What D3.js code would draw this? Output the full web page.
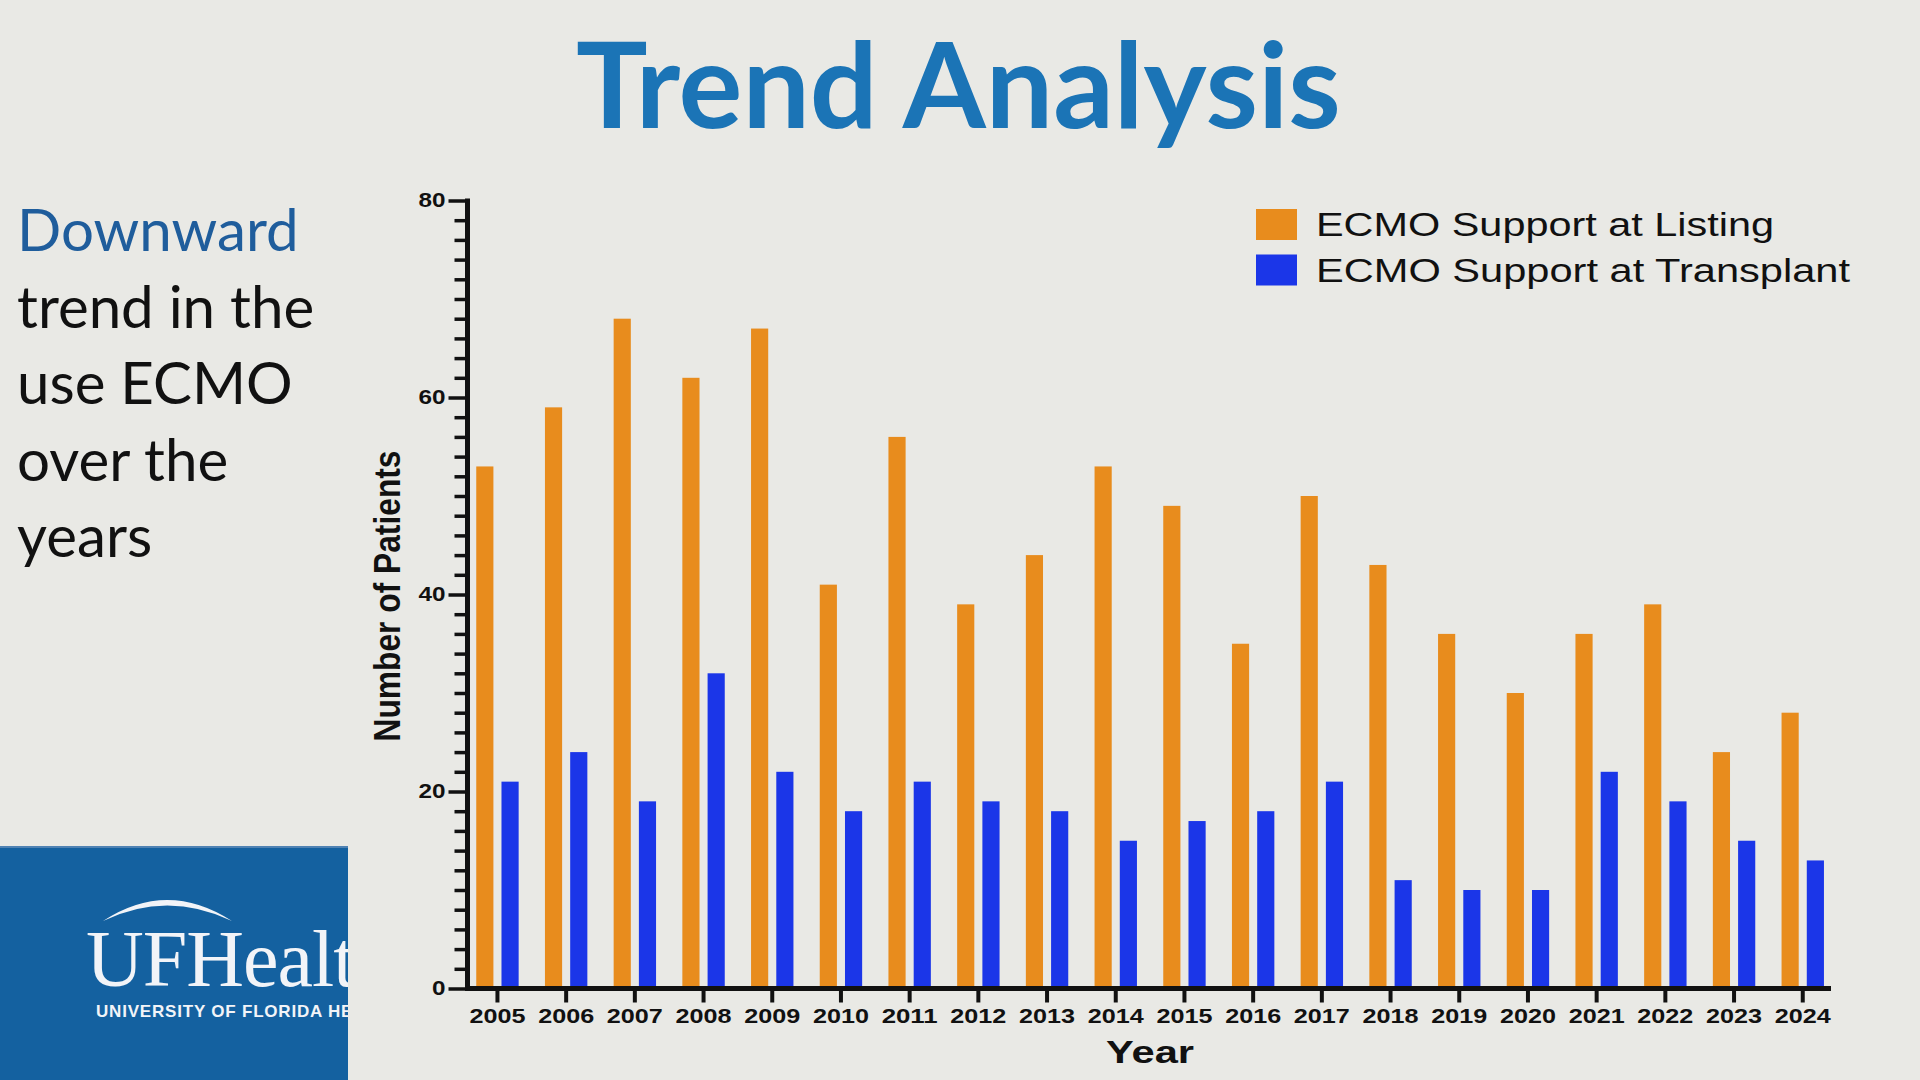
<!DOCTYPE html>
<html><head><meta charset="utf-8">
<script src="https://cdn.jsdelivr.net/npm/d3@7"></script>
<style>html,body{margin:0;padding:0;background:#e9e9e5;overflow:hidden}</style>
</head><body>
<svg id="c" width="1920" height="1080"></svg>
<script>
const years = ["2005","2006","2007","2008","2009","2010","2011","2012","2013","2014","2015","2016","2017","2018","2019","2020","2021","2022","2023","2024"];
const listing = [53,59,68,62,67,41,56,39,44,53,49,35,50,43,36,30,36,39,24,28];
const transplant = [21,24,19,32,22,18,21,19,18,15,17,18,21,11,10,10,22,19,15,13];
const seriesKeys = ["listing","transplant"];
const seriesNames = ["ECMO Support at Listing","ECMO Support at Transplant"];
const seriesColors = ["#e88c1d","#1b36e8"];
const yMajorTicks = [0,20,40,60,80];
const sideLines = ["Downward","trend in the","use ECMO","over the","years"];
const titleText = "Trend Analysis";
const xTitle = "Year";
const yTitle = "Number of Patients";

const svg = d3.select("#c");
svg.append("rect").attr("width",1920).attr("height",1080).attr("fill","#e9e9e5");

// Title
const title = svg.append("text").text(titleText)
  .attr("x",576).attr("y",128)
  .attr("font-family","Lato, 'Open Sans', sans-serif").attr("font-weight",700)
  .attr("font-size",110).attr("fill","#1b74b6");
{
  const w = title.node().getComputedTextLength();
  title.attr("font-size", 110*765/w);
}

// Side text
const side = svg.append("g").attr("font-family","Lato, 'Open Sans', sans-serif").attr("font-size",60);
const sideTargets = [280,304,266,215,136];
let measured = 0;
sideLines.forEach(t=>{
  const p = side.append("text").text(t);
  measured += p.node().getComputedTextLength();
  p.remove();
});
const fs = 60*d3.sum(sideTargets)/measured;
side.attr("font-size",fs);
sideLines.forEach((t,i)=>{
  side.append("text").text(t).attr("x",17).attr("y",251+i*76.5)
    .attr("fill", i===0 ? "#1f5d9c" : "#111111");
});

// Logo
const defs = svg.append("defs");
defs.append("clipPath").attr("id","logoclip").append("rect")
  .attr("x",0).attr("y",846).attr("width",348).attr("height",234);
const logo = svg.append("g").attr("clip-path","url(#logoclip)");
logo.append("rect").attr("x",0).attr("y",846).attr("width",348).attr("height",234).attr("fill","#1461a0");
logo.append("rect").attr("x",0).attr("y",846).attr("width",348).attr("height",2).attr("fill","#4f82b3");
logo.append("path").attr("d","M103,921 Q167,879 232,921 Q167,890 103,921 Z").attr("fill","#f2f4f8");
logo.append("text").text("UFHealth").attr("x",86).attr("y",986)
  .attr("font-family","'Liberation Serif', 'DejaVu Serif', serif").attr("font-size",80)
  .attr("letter-spacing",-1).attr("fill","#f2f4f8");
logo.append("text").text("UNIVERSITY OF FLORIDA HEALTH").attr("x",96).attr("y",1017)
  .attr("font-family","'Liberation Sans', Arial, sans-serif").attr("font-weight",700)
  .attr("font-size",17).attr("letter-spacing",0.8).attr("fill","#f2f4f8");

// Scales
const x = d3.scaleBand().domain(years).range([463.1,1837.1]).paddingInner(0).paddingOuter(0);
const half = 21.2;
const xs = d3.scaleBand().domain(seriesKeys)
  .range([x.bandwidth()/2-half, x.bandwidth()/2+half]).paddingInner(0.32).paddingOuter(0);
const y = d3.scaleLinear().domain([0,80]).range([988.5,200.5]);

const data = years.map((yr,i)=>({year:yr, listing:listing[i], transplant:transplant[i]}));

// Bars
const groups = svg.append("g").selectAll("g").data(data).join("g")
  .attr("transform",d=>`translate(${x(d.year)},0)`);
groups.selectAll("rect").data(d=>seriesKeys.map((k,j)=>({k, v:d[k], c:seriesColors[j]}))).join("rect")
  .attr("x",d=>xs(d.k)).attr("width",xs.bandwidth())
  .attr("y",d=>y(d.v)).attr("height",d=>y(0)-y(d.v))
  .attr("fill",d=>d.c);

const axisFont = "'Liberation Sans', Arial, Helvetica, sans-serif";

// Y axis minor
const minorVals = d3.range(0,81,2).filter(v=>v%20!==0);
const yMinor = svg.append("g").attr("transform","translate(467.5,0)")
  .call(d3.axisLeft(y).tickValues(minorVals).tickSize(13).tickSizeOuter(0).tickFormat(""));
yMinor.select(".domain").remove();
yMinor.selectAll(".tick line").attr("stroke","#111").attr("stroke-width",3.5);

// Y axis major
const yMajor = svg.append("g").attr("transform","translate(467.5,0)")
  .call(d3.axisLeft(y).tickValues(yMajorTicks).tickSize(19).tickSizeOuter(0).tickPadding(3));
yMajor.select(".domain").attr("stroke","#111").attr("stroke-width",5).attr("d","M0,198.5V991");
yMajor.selectAll(".tick line").attr("stroke","#111").attr("stroke-width",3.5);
yMajor.selectAll(".tick text").attr("font-family",axisFont).attr("font-weight",700)
  .attr("font-size",20).attr("fill","#111")
  .attr("textLength",d=>String(d).length*13.5).attr("lengthAdjust","spacingAndGlyphs");

// X axis
const xAx = svg.append("g").attr("transform",`translate(0,${y(0)})`)
  .call(d3.axisBottom(x).tickSize(14).tickSizeOuter(0).tickPadding(6.5));
xAx.select(".domain").attr("stroke","#111").attr("stroke-width",5).attr("d","M465,0H1831");
xAx.selectAll(".tick line").attr("stroke","#111").attr("stroke-width",4);
xAx.selectAll(".tick text").attr("font-family",axisFont).attr("font-weight",700)
  .attr("font-size",19.5).attr("fill","#111")
  .attr("textLength",56).attr("lengthAdjust","spacingAndGlyphs");

// Axis titles
svg.append("text").text(xTitle).attr("x",1150).attr("y",1063).attr("text-anchor","middle")
  .attr("font-family",axisFont).attr("font-weight",700).attr("font-size",32).attr("fill","#111")
  .attr("textLength",88).attr("lengthAdjust","spacingAndGlyphs");
svg.append("text").text(yTitle).attr("transform","translate(400,596) rotate(-90)").attr("text-anchor","middle")
  .attr("font-family",axisFont).attr("font-weight",700).attr("font-size",37).attr("fill","#111")
  .attr("textLength",291).attr("lengthAdjust","spacingAndGlyphs");

// Legend
const legend = svg.append("g");
const legW = [458,534];
seriesNames.forEach((n,i)=>{
  legend.append("rect").attr("x",1256).attr("y",209+i*45.5).attr("width",41).attr("height",31).attr("fill",seriesColors[i]);
  legend.append("text").text(n).attr("x",1316).attr("y",236+i*45.5)
    .attr("font-family",axisFont).attr("font-size",34).attr("fill","#111")
    .attr("textLength",legW[i]).attr("lengthAdjust","spacingAndGlyphs");
});
</script>
</body></html>
